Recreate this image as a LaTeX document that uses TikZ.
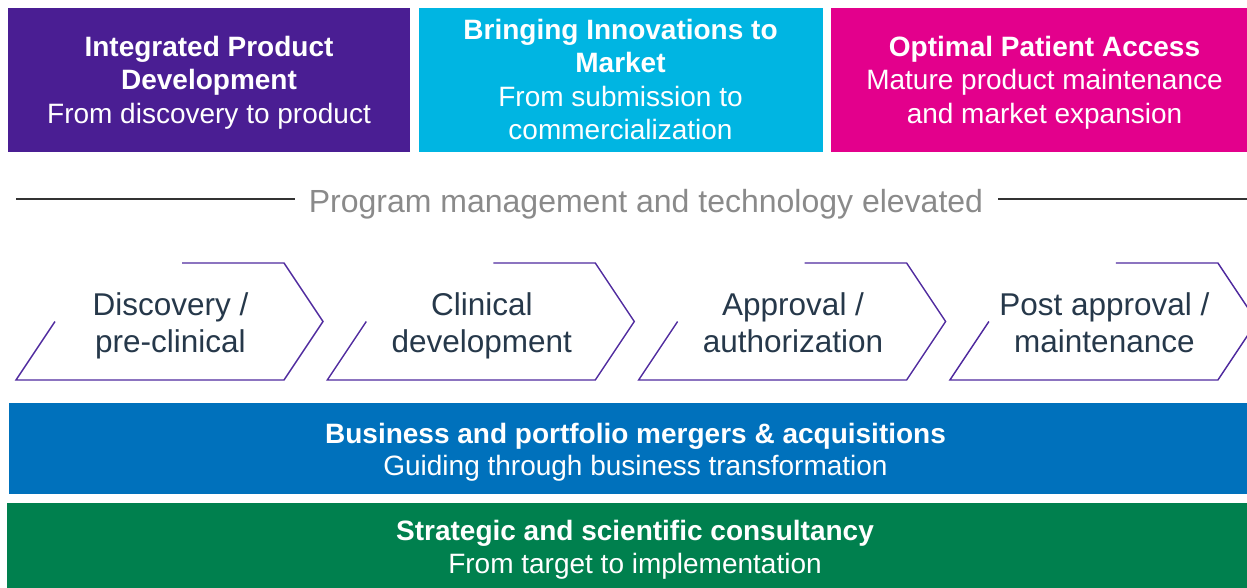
\documentclass[tikz,border=0pt]{standalone}
\usepackage{fontspec}
\setmainfont{Liberation Sans}
\definecolor{cpurple}{HTML}{4A1E93}
\definecolor{ccyan}{HTML}{00B5E2}
\definecolor{cmagenta}{HTML}{E3008C}
\definecolor{cblue}{HTML}{0071BC}
\definecolor{cgreen}{HTML}{00804E}
\definecolor{cline}{HTML}{4F2A9E}
\definecolor{ctext}{HTML}{26384A}
\definecolor{cgray}{HTML}{8A8A8A}
\definecolor{crule}{HTML}{333333}
\tikzset{
  topbox/.style={minimum height=144pt, inner sep=0pt},
  boxtext/.style={inner sep=0pt, text=white, align=center,
    font=\fontsize{28}{33.5}\selectfont},
  band/.style={inner sep=0pt, minimum width=1250pt, anchor=north west},
  bandtext/.style={inner sep=0pt, text=white, align=center},
  chevtext/.style={text=ctext, align=center, inner sep=0pt,
    font=\fontsize{31.5}{37.5}\selectfont},
  chevline/.style={draw=cline, line width=1.4pt, line join=miter},
  rule/.style={draw=crule, line width=1.4pt}
}
\begin{document}
\begin{tikzpicture}[x=1pt,y=-1pt]
\useasboundingbox (0,0) rectangle (1247,588);
\clip (0,0) rectangle (1247,588);
% top boxes
\node[topbox, fill=cpurple, minimum width=402pt] (ipd) at (209,80) {};
\node[topbox, fill=ccyan, minimum width=404pt] (bim) at (621,80) {};
\node[topbox, fill=cmagenta, minimum width=428pt] (opa) at (1045,80) {};
\node[boxtext] (ipdtxt) at (209,83)
  {\strut\textbf{Integrated Product}\\\strut\textbf{Development}\\\strut From discovery to product};
\node[boxtext] (bimtxt) at (620.5,83)
  {\strut\textbf{Bringing Innovations to}\\\strut\textbf{Market}\\\strut From submission to\\\strut commercialization};
\node[boxtext] (opatxt) at (1044.5,83)
  {\strut\textbf{Optimal Patient Access}\\\strut Mature product maintenance\\\strut and market expansion};
% program management line
\node[text=cgray, inner sep=0pt, anchor=base, font=\fontsize{32}{36}\selectfont] (pm) at (646,212.5) {Program management and technology elevated};
\coordinate (l1) at (16,199);
\coordinate (l2) at (295,199);
\coordinate (r1) at (998,199);
\coordinate (r2) at (1250,199);
\draw[rule] (l1) -- (l2);
\draw[rule] (r1) -- (r2);
% chevrons
\foreach \i/\ta/\tb in {0/{Discovery /}/{pre-clinical},1/{Clinical}/{development},2/{Approval /}/{authorization},3/{Post approval /}/{maintenance}}{
  \begin{scope}[xshift=311.3*\i]
    \draw[chevline] (182,263) -- (284,263) -- (323,321.5) -- (284,380) -- (16,380) -- (55,321.5);
    \node[chevtext] (chev\i) at (170.5,326.5) {\strut\ta\\\strut\tb};
  \end{scope}
}
% bands
\node[band, fill=cblue, minimum height=91pt] (bpm) at (9,403) {};
\node[bandtext, font=\fontsize{28}{32}\selectfont] (bpmtxt) at (635.5,452.6)
  {\strut\textbf{Business and portfolio mergers \& acquisitions}\\\strut Guiding through business transformation};
\node[band, fill=cgreen, minimum height=90pt] (ssc) at (7,503) {};
\node[bandtext, font=\fontsize{28}{33.5}\selectfont] (ssctxt) at (635,550.5)
  {\strut\textbf{Strategic and scientific consultancy}\\\strut From target to implementation};
\end{tikzpicture}
\end{document}
